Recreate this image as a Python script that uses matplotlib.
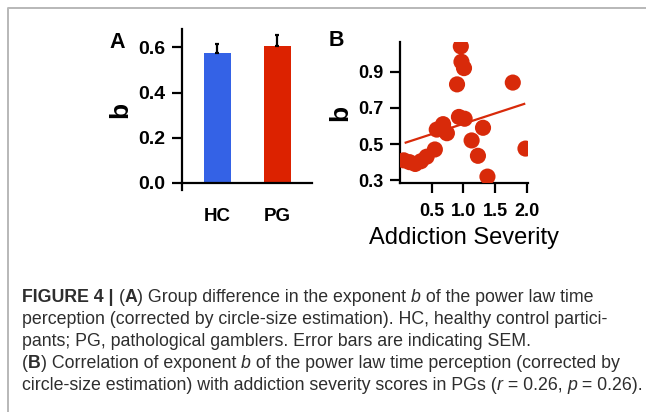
import matplotlib
matplotlib.use("Agg")
import matplotlib.pyplot as plt
from matplotlib.lines import Line2D

# Panel A: group means of exponent b with upper SEM
groups = ["HC", "PG"]
group_b = [0.575, 0.604]
group_sem = [0.039, 0.049]
group_colors = ["#3462e6", "#dc2200"]

# Panel B: addiction severity vs exponent b (PG participants)
severity = [0.06, 0.15, 0.24, 0.33, 0.42, 0.55, 0.58, 0.68, 0.74, 0.90,
            0.93, 1.02, 0.96, 0.97, 1.01, 1.13, 1.23, 1.31, 1.38, 1.78, 1.98]
b_values = [0.41, 0.40, 0.39, 0.405, 0.43, 0.47, 0.58, 0.61, 0.56, 0.83,
            0.65, 0.64, 1.04, 0.955, 0.92, 0.52, 0.435, 0.59, 0.32, 0.84, 0.475]
fit_x = [0.09, 1.96]
fit_y = [0.508, 0.722]

# caption: each line is a list of (text, style) pieces; style n=normal, b=bold, i=italic
caption_lines = [
    [("FIGURE 4 | ", "b"), ("(", "n"), ("A", "b"),
     (") Group difference in the exponent ", "n"), ("b", "i"),
     (" of the power law time", "n")],
    [("perception (corrected by circle-size estimation). HC, healthy control partici-", "n")],
    [("pants; PG, pathological gamblers. Error bars are indicating SEM.", "n")],
    [("(", "n"), ("B", "b"), (") Correlation of exponent ", "n"), ("b", "i"),
     (" of the power law time perception (corrected by", "n")],
    [("circle-size estimation) with addiction severity scores in PGs (", "n"),
     ("r", "i"), (" = 0.26, ", "n"), ("p", "i"), (" = 0.26).", "n")],
]

plt.rcParams["font.family"] = ["Liberation Sans", "DejaVu Sans"]

W, H = 646, 412
fig = plt.figure(figsize=(W / 100, H / 100), dpi=100)


def px_axes(x0, y0, x1, y1):
    return fig.add_axes([x0 / W, 1 - y1 / H, (x1 - x0) / W, (y1 - y0) / H])


def style(ax):
    for s in ["top", "right"]:
        ax.spines[s].set_visible(False)
    for s in ["left", "bottom"]:
        ax.spines[s].set_linewidth(1.6)
    ax.tick_params(width=1.6, length=7, direction="out", pad=5)
    for lab in ax.get_xticklabels() + ax.get_yticklabels():
        lab.set_fontweight("bold")


# ---- panel A
axA = px_axes(182, 29, 312, 190)
xs = range(len(groups))
axA.bar(xs, group_b, width=0.45, color=group_colors, zorder=2)
axA.errorbar(xs, group_b, yerr=[[0, 0], group_sem], fmt="none",
             ecolor="black", elinewidth=1.6, capsize=1.2, capthick=1.6, zorder=3)
axA.set_xlim(-0.59, 1.58)
axA.set_ylim(-0.031, 0.681)
axA.spines["bottom"].set_position(("data", 0))
axA.set_yticks([0.0, 0.2, 0.4, 0.6])
axA.set_yticklabels(["0.0", "0.2", "0.4", "0.6"], fontsize=14)
axA.set_xticks(list(xs))
axA.set_xticklabels(groups, fontsize=13.5)
style(axA)
axA.tick_params(axis="x", length=0, pad=18)
axA.set_ylabel("b", fontsize=19, fontweight="bold", labelpad=4)

# ---- panel B
axB = px_axes(400, 41.7, 528, 183.3)
axB.plot(fit_x, fit_y, color="#d82a0a", lw=1.6, zorder=2)
axB.scatter(severity, b_values, s=135, color="#d82a0a", edgecolor="none", zorder=3)
axB.set_xlim(0, 2.02)
axB.set_ylim(0.283, 1.066)
axB.set_xticks([0.5, 1.0, 1.5, 2.0])
axB.set_xticklabels(["0.5", "1.0", "1.5", "2.0"], fontsize=13)
axB.set_yticks([0.3, 0.5, 0.7, 0.9])
axB.set_yticklabels(["0.3", "0.5", "0.7", "0.9"], fontsize=13)
style(axB)
axB.tick_params(axis="x", pad=7)
axB.set_xlabel("Addiction Severity", fontsize=17, labelpad=5)
axB.set_ylabel("b", fontsize=19, fontweight="bold", labelpad=4)

fig.text(117 / W, 1 - 42 / H, "A", fontsize=15.5, fontweight="bold", ha="center", va="center")
fig.text(336 / W, 1 - 40 / H, "B", fontsize=15.5, fontweight="bold", ha="center", va="center")

# caption, built piece by piece so mixed styles keep normal spacing
renderer = fig.canvas.get_renderer()
styles = {"n": {}, "b": {"fontweight": "bold"}, "i": {"fontstyle": "italic"}}
for i, pieces in enumerate(caption_lines):
    x = 22.0
    y = 1 - (297 + 22 * i) / H
    for txt, st in pieces:
        t = fig.text(x / W, y, txt, fontsize=12.8, color="#2e2e2e",
                     ha="left", va="center", **styles[st])
        x += t.get_window_extent(renderer).width

# frame
fig.add_artist(Line2D([7.5 / W, 7.5 / W, 1.0], [0.0, 1 - 8 / H, 1 - 8 / H],
                      transform=fig.transFigure, color="#b8b8b8", lw=1.4))

fig.savefig("out.png", dpi=100)
